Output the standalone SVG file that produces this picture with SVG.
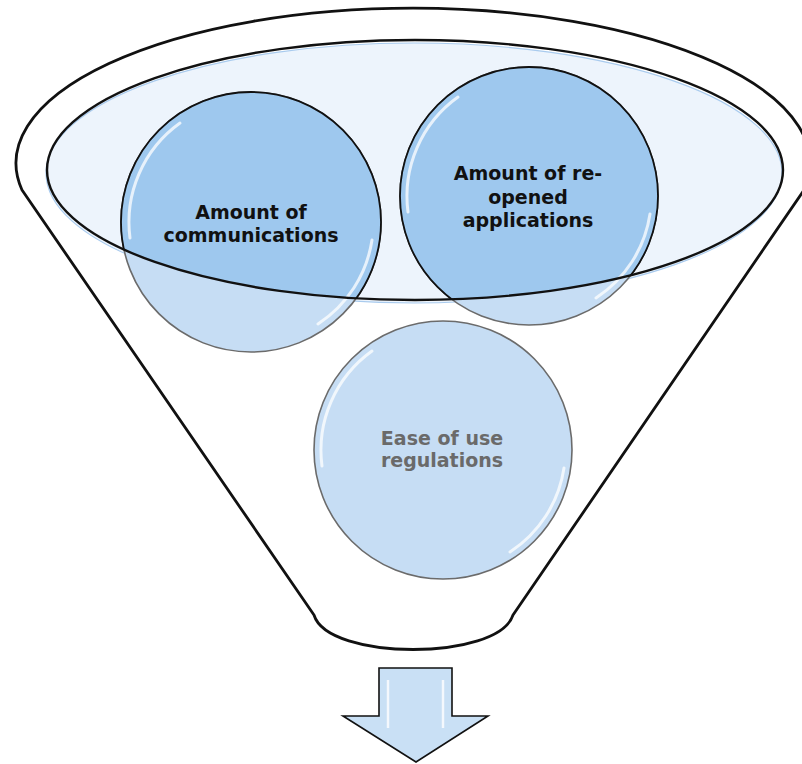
<svg xmlns="http://www.w3.org/2000/svg" width="802" height="764" viewBox="0 0 802 764">
<defs>
<style>
.funnel{fill:#fff;stroke:#111;stroke-width:2.8;stroke-linejoin:round}
.lite{fill:#c6ddf4;stroke:#6b6b6b;stroke-width:1.6}
.dark{fill:#9ec8ee;stroke:#111;stroke-width:1.8}
.hl{fill:none;stroke:#fff;stroke-width:3;stroke-linecap:round;opacity:0.75}
.lbl{font-family:"DejaVu Sans","Liberation Sans",sans-serif;font-weight:bold;font-size:19px;text-anchor:middle}
</style>
<clipPath id="topClip"><ellipse cx="415" cy="170" rx="368" ry="130"/></clipPath>
</defs>
<g id="funnel">
<path class="funnel" d="M22,190 A397,155 0 1 1 804,190 L513,615 C498,661 328,661 314,615 Z"/>
<ellipse cx="414" cy="173" rx="368" ry="130" fill="#edf4fc" stroke="#a9cbee" stroke-width="1.2"/>
</g>
<g id="node-communications">
<circle class="lite" cx="251" cy="222" r="130"/>
<circle class="dark" cx="251" cy="222" r="130" clip-path="url(#topClip)"/>
<path class="hl" d="M130,238 A122,122 0 0 1 180,123"/>
<path class="hl" d="M372,240 A122,122 0 0 1 318,324" opacity="0.6"/>
<text class="lbl" x="251" y="219" fill="#111">Amount of</text>
<text class="lbl" x="251" y="242" fill="#111">communications</text>
</g>
<g id="node-reopened">
<circle class="lite" cx="529" cy="196" r="129"/>
<circle class="dark" cx="529" cy="196" r="129" clip-path="url(#topClip)"/>
<path class="hl" d="M408,212 A122,122 0 0 1 458,97"/>
<path class="hl" d="M650,214 A122,122 0 0 1 596,298" opacity="0.6"/>
<text class="lbl" x="528" y="180" fill="#111">Amount of re-</text>
<text class="lbl" x="528" y="203.5" fill="#111">opened</text>
<text class="lbl" x="528" y="227" fill="#111">applications</text>
</g>
<g id="top-rim">
<ellipse cx="415" cy="170" rx="368" ry="130" fill="none" stroke="#111" stroke-width="2.4"/>
</g>
<g id="node-ease">
<circle class="lite" cx="443" cy="450" r="129"/>
<path class="hl" d="M322,466 A122,122 0 0 1 372,351"/>
<path class="hl" d="M564,468 A122,122 0 0 1 510,552" opacity="0.6"/>
<text class="lbl" x="442" y="445" fill="#6a6a6a">Ease of use</text>
<text class="lbl" x="442" y="467" fill="#6a6a6a">regulations</text>
</g>
<g id="connectors">
<path d="M379,668 L452,668 L452,716 L488,716 L416,762 L343,716 L379,716 Z" fill="#c9e0f5" stroke="#111" stroke-width="1.6" stroke-linejoin="miter"/>
<path d="M388,680 L388,728" stroke="#fff" stroke-width="2.5" opacity="0.8"/>
<path d="M443,680 L443,728" stroke="#fff" stroke-width="2.5" opacity="0.8"/>
</g>
</svg>
